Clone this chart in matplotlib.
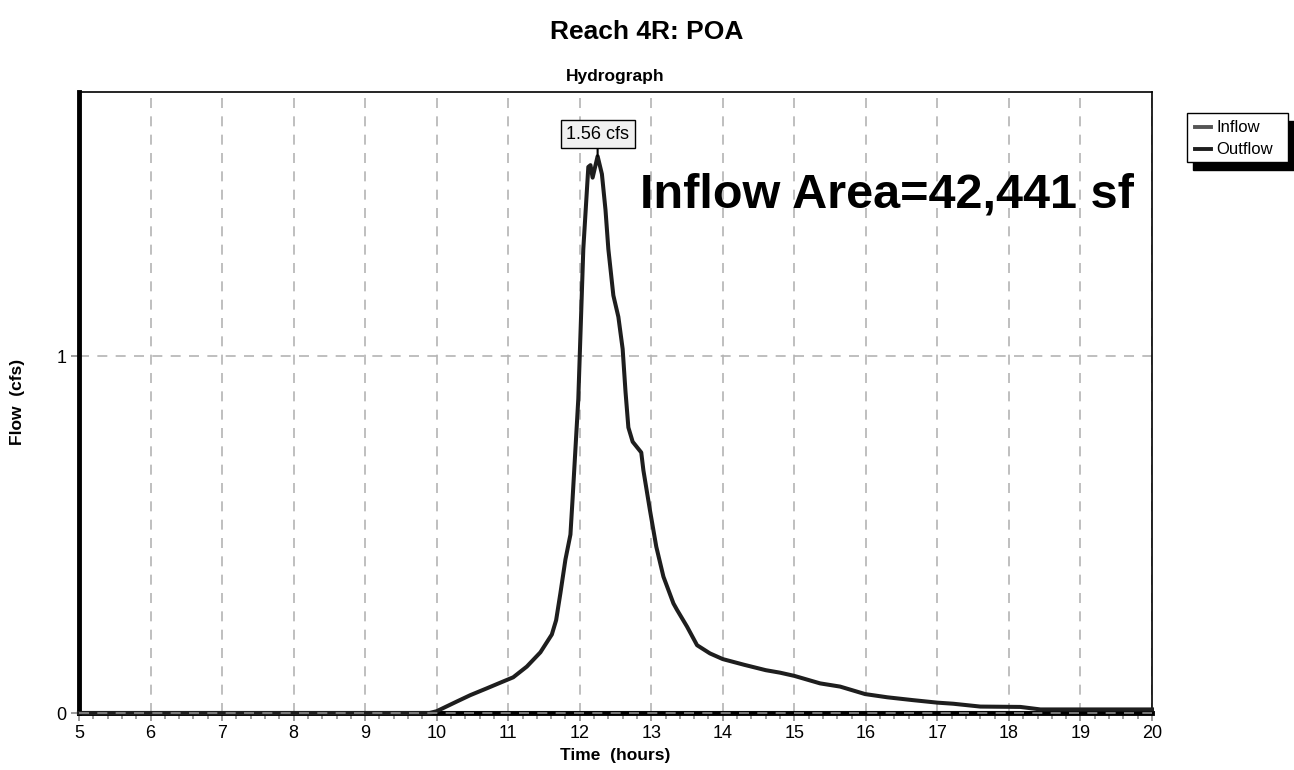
import matplotlib
matplotlib.use("Agg")
import matplotlib.pyplot as plt
from matplotlib.patches import Rectangle
from matplotlib.lines import Line2D
import numpy as np

plt.rcParams['font.family'] = ['Liberation Sans', 'DejaVu Sans']

# Outflow hydrograph (hours, cfs)
time_h = [5.0, 9.0, 9.9, 10.0, 10.28, 10.47, 10.70, 10.89, 11.07, 11.26, 11.45,
          11.61, 11.67, 11.73, 11.80, 11.87, 11.90, 11.94, 11.98, 12.0, 12.05,
          12.12, 12.15, 12.18, 12.25, 12.31, 12.36, 12.40, 12.47, 12.54, 12.60,
          12.64, 12.68, 12.74, 12.82, 12.86, 12.89, 12.98, 13.07, 13.17, 13.31,
          13.36, 13.50, 13.64, 13.82, 14.0, 14.3, 14.6, 14.8, 15.0, 15.36,
          15.64, 15.99, 16.30, 16.66, 17.0, 17.22, 17.6, 18.16, 18.44, 19.0, 20.0]
outflow_cfs = [0.0, 0.0, 0.0, 0.005, 0.032, 0.05, 0.069, 0.085, 0.10, 0.13, 0.17,
               0.22, 0.26, 0.336, 0.43, 0.50, 0.60, 0.74, 0.88, 1.0, 1.30,
               1.53, 1.535, 1.50, 1.56, 1.51, 1.41, 1.30, 1.17, 1.11, 1.02,
               0.90, 0.80, 0.76, 0.74, 0.73, 0.68, 0.57, 0.466, 0.382, 0.307,
               0.289, 0.242, 0.19, 0.167, 0.151, 0.135, 0.12, 0.113, 0.104, 0.083,
               0.074, 0.053, 0.044, 0.036, 0.029, 0.026, 0.018, 0.017, 0.010, 0.010, 0.010]
inflow_zero_t = [5.0, 20.0]
inflow_zero_q = [0.0, 0.0]

peak_time = 12.25
peak_flow = 1.56
peak_label = "1.56 cfs"
area_label = "Inflow Area=42,441 sf"

W, H = 1294, 770
fig = plt.figure(figsize=(W / 100, H / 100), dpi=100)
ax = fig.add_axes([79 / W, 1 - 713 / H, (1152 - 79) / W, (713 - 92) / H])

ax.set_xlim(5, 20)
ax.set_ylim(0, 1.74)
ax.set_xticks(np.arange(5, 21, 1))
ax.set_xticks(np.arange(5, 20.01, 0.2), minor=True)
ax.set_yticks([0, 1])
ax.set_yticklabels(["0", "1"])

ax.grid(True, which='major', color='#b4b4b4', linestyle=(0, (6, 5)), linewidth=1.2)
ax.set_axisbelow(True)

ax.tick_params(axis='both', which='major', direction='out', length=6, width=1.2,
               color='#8c8c8c', labelsize=13, pad=3)
ax.tick_params(axis='x', which='minor', direction='out', length=4, width=1.2, color='#8c8c8c')

for s in ['top', 'right']:
    ax.spines[s].set_linewidth(1.2)
    ax.spines[s].set_color('black')
ax.spines['left'].set_linewidth(3.5)
ax.spines['bottom'].set_linewidth(3.5)
for s in ax.spines.values():
    s.set_zorder(3)

ax.plot(inflow_zero_t, inflow_zero_q, color='#555555', linewidth=3, clip_on=False, zorder=2)
ax.plot(time_h, outflow_cfs, color='#1e1e1e', linewidth=2.9, solid_joinstyle='round',
        clip_on=False, zorder=4)
ax.axhline(0, color='#8c8c8c', linestyle=(0, (6, 5)), linewidth=1.2, zorder=5, clip_on=False)

# peak annotation
ax.annotate(peak_label, xy=(peak_time, peak_flow), xytext=(peak_time, 1.622),
            ha='center', va='center', fontsize=13,
            bbox=dict(boxstyle='square,pad=0.3', facecolor='#f0f0f0', edgecolor='black', linewidth=1),
            arrowprops=dict(arrowstyle='-', color='black', linewidth=1.5, shrinkA=0, shrinkB=0),
            zorder=6)

ax.text(0.753, 0.834, area_label, transform=ax.transAxes, ha='center', va='center',
        fontsize=35, fontweight='bold', color='black')

ax.set_xlabel("Time  (hours)", fontsize=12.5, fontweight='bold', labelpad=4)
ax.set_title("Hydrograph", fontsize=12.5, fontweight='bold', pad=8)
fig.text(18 / W, 1 - 402 / H, "Flow  (cfs)", rotation=90, ha='center', va='center',
         fontsize=12.5, fontweight='bold')

fig.text(647 / W, 1 - 32 / H, "Reach 4R: POA", ha='center', va='center',
         fontsize=19, fontweight='bold')

# legend with black drop shadow
lx0, ly0, lx1, ly1 = 1187, 113, 1288, 162
fig.add_artist(Rectangle(((lx0 + 6) / W, 1 - (ly1 + 8) / H), (lx1 - lx0) / W, (ly1 - ly0) / H,
                         transform=fig.transFigure, facecolor='black', edgecolor='black', zorder=1))
fig.add_artist(Rectangle((lx0 / W, 1 - ly1 / H), (lx1 - lx0) / W, (ly1 - ly0) / H,
                         transform=fig.transFigure, facecolor='white', edgecolor='black',
                         linewidth=1, zorder=2))
legend_names = ["Inflow", "Outflow"]
legend_colors = ['#555555', '#1e1e1e']
legend_y = [127, 149]
for name, col, yy in zip(legend_names, legend_colors, legend_y):
    fig.add_artist(Line2D([1195 / W, 1211 / W], [1 - yy / H, 1 - yy / H], transform=fig.transFigure,
                          color=col, linewidth=2.8, zorder=3))
    fig.text(1216 / W, 1 - yy / H, name, ha='left', va='center', fontsize=12, zorder=3)

fig.savefig("out.png", dpi=100)
